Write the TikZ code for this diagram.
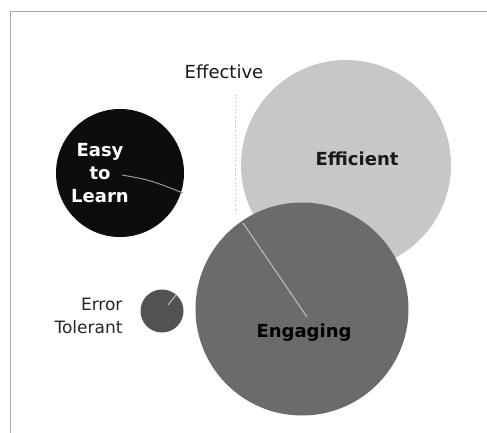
\documentclass[tikz,border=0pt]{standalone}
\usepackage{fontspec}
\setmainfont{DejaVu Sans}
\begin{document}
\begin{tikzpicture}[x=1pt,y=-1pt,
  bubble/.style={circle,inner sep=0pt,draw=none},
  bold label/.style={font=\bfseries\fontsize{18}{20}\selectfont},
  plain label/.style={font=\fontsize{17}{23}\selectfont,text=black!85},
  leader/.style={draw=black!25,line width=1pt}]
\useasboundingbox (0,0) rectangle (487,433);
\fill[white] (0,0) rectangle (487,433);
% frame
\draw[black!35,line width=0.6pt] (10,433) -- (10,11) -- (487,11);
% faint divider beside the title
\draw[black!25,dotted,line width=0.5pt] (235,95) -- (235,213);

% bubbles
\node[bubble,fill=black!22,minimum size=210pt] (eff) at (346,165) {};
\node[bubble,fill=black!58,minimum size=213pt] (eng) at (302,309) {};
\node[bubble,fill=black!95,minimum size=128pt] (easy) at (120,173) {};
\node[bubble,fill=black!68,minimum size=43pt] (err) at (162,311) {};

% labels
\node[plain label,font=\fontsize{18}{20}\selectfont,text=black!90] (effective) at (224,72) {Effective};
\node[bold label,text=black!90] (efficient) at (357,159) {Efficient};
\node[bold label,text=black] (engaging) at (304,333) {Engaging};
\node[bold label,text=white,align=center,font=\bfseries\fontsize{18}{23}\selectfont] (easylbl) at (100,173) {Easy\\to\\Learn};
\node[plain label,align=right,anchor=east] (errlbl) at (126,316) {Error\\Tolerant};

% leader lines
\coordinate (a1) at (122,175);
\coordinate (a2) at (183,193);
\coordinate (b1) at (243,223);
\coordinate (b2) at (307,317);
\coordinate (c1) at (168,305);
\coordinate (c2) at (176,295);
\draw[leader,draw=black!40] (a1) .. controls (150,180) .. (a2);
\draw[leader] (b1) -- (b2);
\draw[leader] (c1) -- (c2);
\end{tikzpicture}
\end{document}
